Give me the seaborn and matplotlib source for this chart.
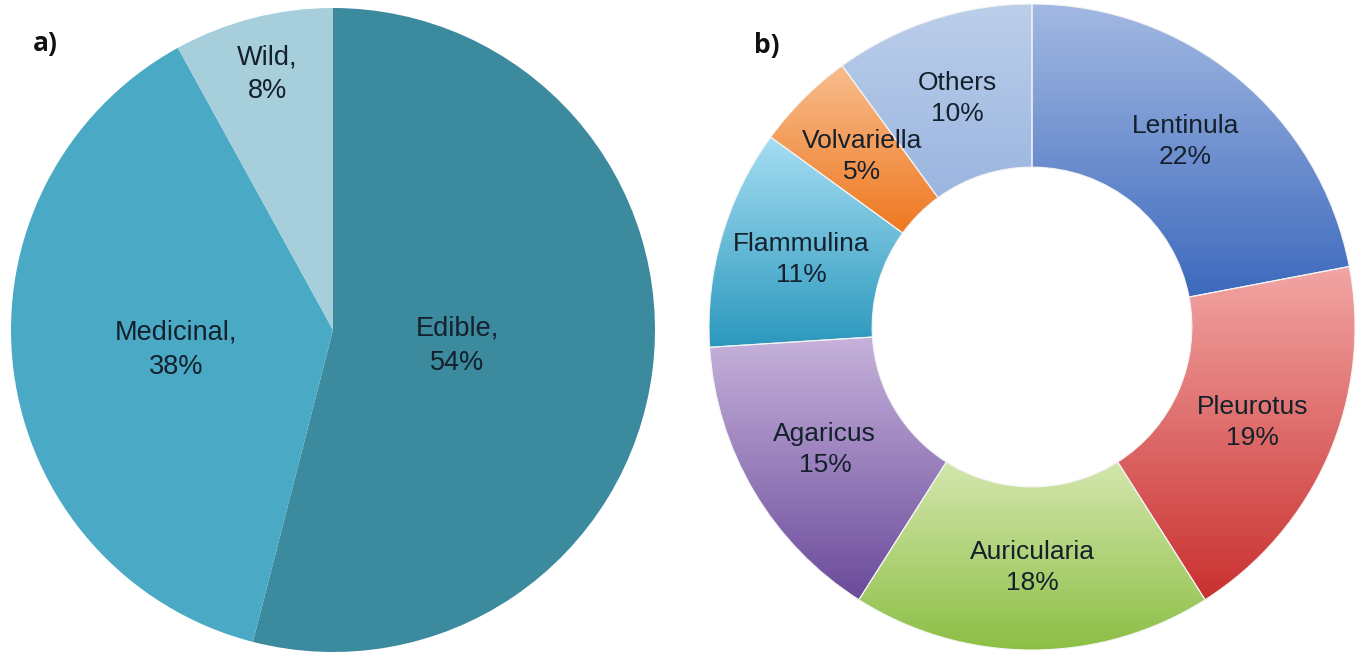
import numpy as np
import matplotlib
matplotlib.use('Agg')
import matplotlib.pyplot as plt
import seaborn as sns
from matplotlib.colors import LinearSegmentedColormap

sns.set_theme(style='white')
plt.rcParams['font.family'] = ['Liberation Sans', 'DejaVu Sans']

# a) mushroom use
use_labels = ['Edible', 'Medicinal', 'Wild']
use_values = [54, 38, 8]
use_colors = ['#3b8a9e', '#4aa9c4', '#a7cfdb']
use_text_dist = [0.39, 0.49, 0.82]

# b) cultivated genera
genus_labels = ['Lentinula', 'Pleurotus', 'Auricularia', 'Agaricus',
                'Flammulina', 'Volvariella', 'Others']
genus_values = [22, 19, 18, 15, 11, 5, 10]
genus_top = ['#a3b9e2', '#f2a6a4', '#d4e6ad', '#c6b2db', '#a6def3', '#f8bd8e', '#bccfea']
genus_bottom = ['#3d69bd', '#c9302f', '#8cbf45', '#6a4a9a', '#2b98bd', '#ef7820', '#9ab5e0']

txt_color = '#14202c'

W, H = 1362, 654
fig = plt.figure(figsize=(W / 100, H / 100), dpi=100)

# left pie: centre (333, 330), radius 322 px
r1 = 322
ax1 = fig.add_axes([(333 - r1) / W, (H - 330 - r1) / H, 2 * r1 / W, 2 * r1 / H])
wedges, _ = ax1.pie(use_values, colors=use_colors, startangle=90, counterclock=False,
                    wedgeprops=dict(linewidth=0))
for w, lab, val, d in zip(wedges, use_labels, use_values, use_text_dist):
    ang = np.deg2rad((w.theta1 + w.theta2) / 2)
    ax1.text(d * np.cos(ang), d * np.sin(ang), f'{lab},\n{val}%', ha='center', va='center',
             fontsize=19.5, color=txt_color, linespacing=1.38)
ax1.set_xlim(-1, 1)
ax1.set_ylim(-1, 1)
ax1.set_aspect('equal')
ax1.axis('off')

# right donut: centre (1032, 327), radius 323 px
r2 = 323
ax2 = fig.add_axes([(1032 - r2) / W, (H - 327 - r2) / H, 2 * r2 / W, 2 * r2 / H])
wedges2, texts2 = ax2.pie(genus_values,
                          labels=[f'{l}\n{v}%' for l, v in zip(genus_labels, genus_values)],
                          labeldistance=0.745, startangle=90, counterclock=False,
                          wedgeprops=dict(width=0.505, linewidth=0.8, edgecolor='#f4f4f4'),
                          textprops=dict(fontsize=19, color=txt_color, ha='center',
                                         va='center', linespacing=1.36))
grad = np.linspace(0, 1, 256).reshape(-1, 1)
for w, c0, c1 in zip(wedges2, genus_top, genus_bottom):
    x0, y0, x1, y1 = w.get_path().get_extents().extents
    cmap = LinearSegmentedColormap.from_list('g', [c0, c1])
    im = ax2.imshow(grad, extent=(x0, x1, y0, y1), cmap=cmap, aspect='auto',
                    origin='upper', zorder=1)
    im.set_clip_path(w)
    w.set_facecolor('none')
    w.set_zorder(2)
for t in texts2:
    t.set_zorder(3)
    t.set_ha('center')
ax2.set_xlim(-1, 1)
ax2.set_ylim(-1, 1)
ax2.set_aspect('equal')
ax2.axis('off')

fig.text(33 / W, 1 - 44 / H, 'a)', fontsize=19, fontweight='bold', color='#111111',
         family=['Open Sans', 'DejaVu Sans'], va='center')
fig.text(754 / W, 1 - 46 / H, 'b)', fontsize=19, fontweight='bold', color='#111111',
         family=['Open Sans', 'DejaVu Sans'], va='center')

fig.savefig('out.png', dpi=100, facecolor='white')
